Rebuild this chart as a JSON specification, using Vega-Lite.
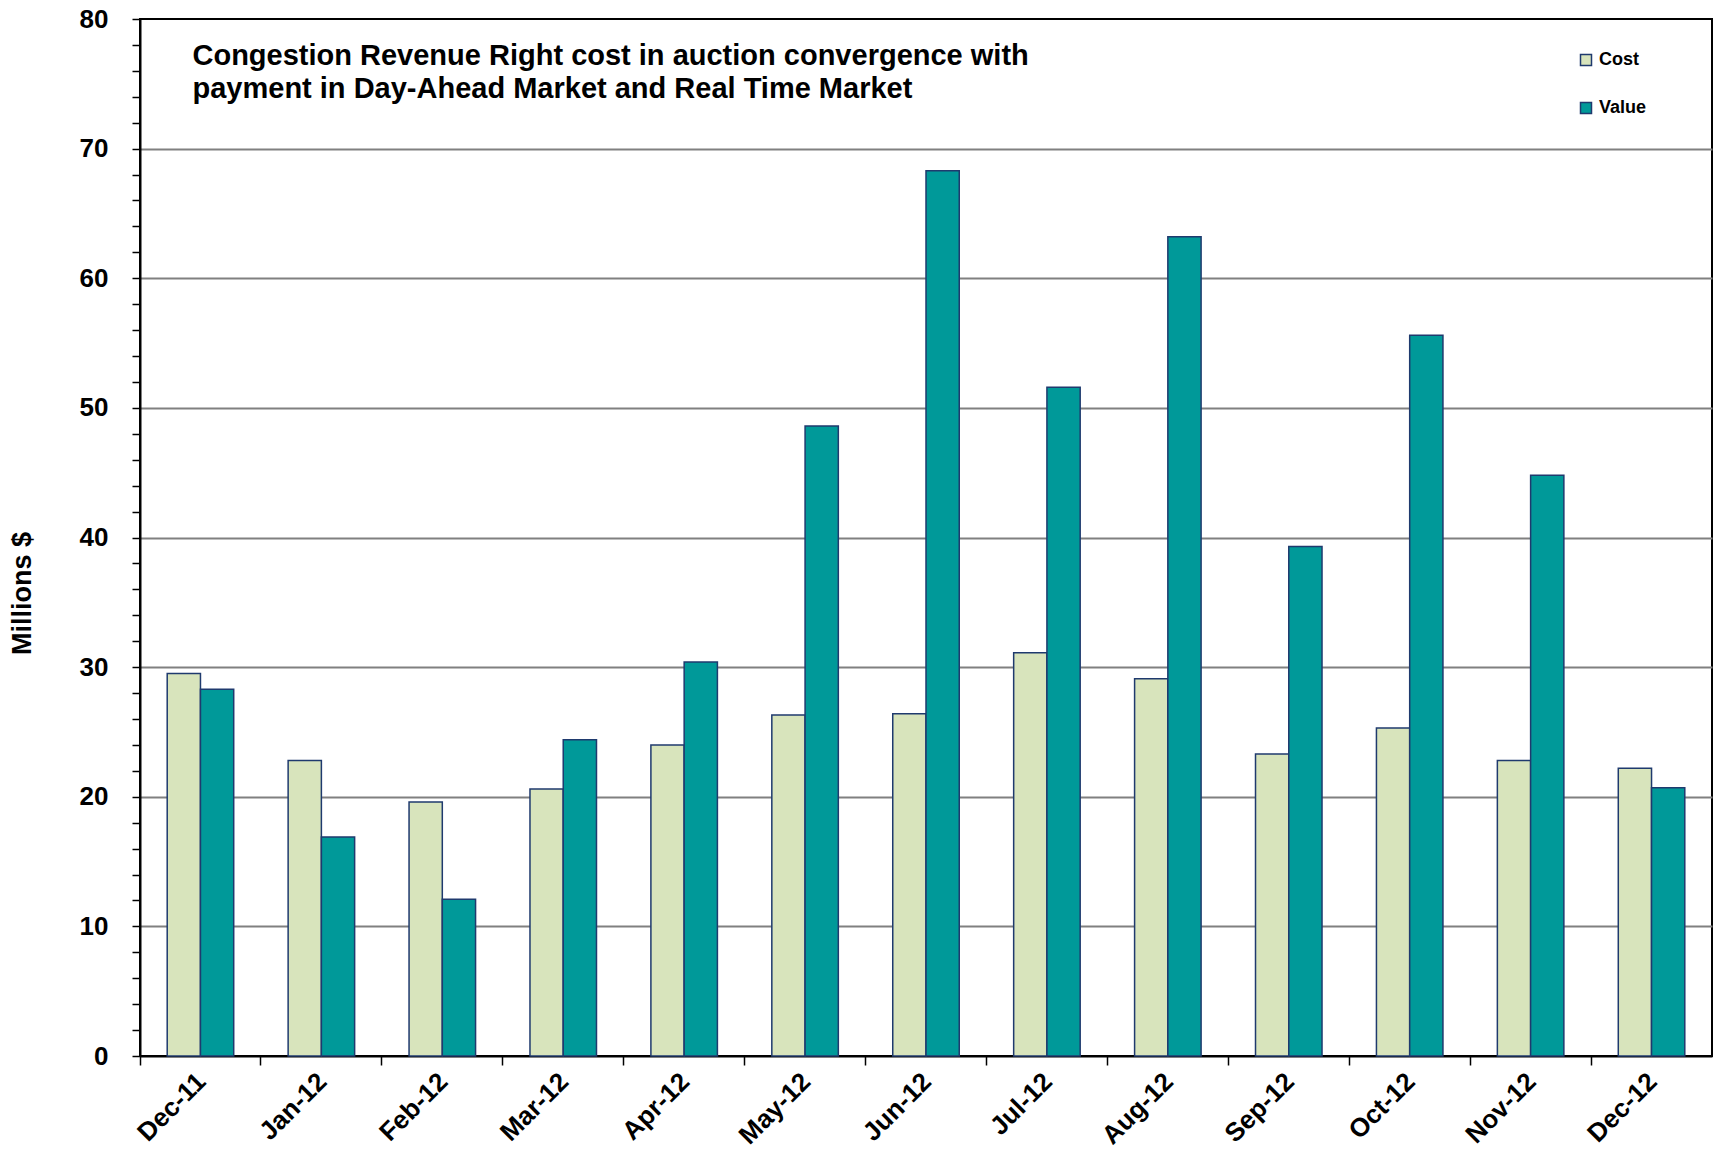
{
  "$schema": "https://vega.github.io/schema/vega-lite/v6.json",
  "width": 1572,
  "height": 1037,
  "autosize": {"type": "none"},
  "padding": {"left": 140, "top": 19, "right": 7, "bottom": 97},
  "background": "white",
  "data": {
    "values": [
      {"month": "Dec-11", "series": "Cost", "amount": 29.5},
      {"month": "Dec-11", "series": "Value", "amount": 28.3},
      {"month": "Jan-12", "series": "Cost", "amount": 22.8},
      {"month": "Jan-12", "series": "Value", "amount": 16.9},
      {"month": "Feb-12", "series": "Cost", "amount": 19.6},
      {"month": "Feb-12", "series": "Value", "amount": 12.1},
      {"month": "Mar-12", "series": "Cost", "amount": 20.6},
      {"month": "Mar-12", "series": "Value", "amount": 24.4},
      {"month": "Apr-12", "series": "Cost", "amount": 24.0},
      {"month": "Apr-12", "series": "Value", "amount": 30.4},
      {"month": "May-12", "series": "Cost", "amount": 26.3},
      {"month": "May-12", "series": "Value", "amount": 48.6},
      {"month": "Jun-12", "series": "Cost", "amount": 26.4},
      {"month": "Jun-12", "series": "Value", "amount": 68.3},
      {"month": "Jul-12", "series": "Cost", "amount": 31.1},
      {"month": "Jul-12", "series": "Value", "amount": 51.6},
      {"month": "Aug-12", "series": "Cost", "amount": 29.1},
      {"month": "Aug-12", "series": "Value", "amount": 63.2},
      {"month": "Sep-12", "series": "Cost", "amount": 23.3},
      {"month": "Sep-12", "series": "Value", "amount": 39.3},
      {"month": "Oct-12", "series": "Cost", "amount": 25.3},
      {"month": "Oct-12", "series": "Value", "amount": 55.6},
      {"month": "Nov-12", "series": "Cost", "amount": 22.8},
      {"month": "Nov-12", "series": "Value", "amount": 44.8},
      {"month": "Dec-12", "series": "Cost", "amount": 22.2},
      {"month": "Dec-12", "series": "Value", "amount": 20.7}
    ]
  },
  "layer": [
    {
      "mark": {"type": "bar", "stroke": "#1f3a6e", "strokeWidth": 1.5},
      "encoding": {
        "x": {
          "field": "month",
          "type": "nominal",
          "sort": null,
          "scale": {"paddingInner": 0.45, "paddingOuter": 0.225},
          "axis": {
            "title": null,
            "orient": "bottom",
            "ticks": false,
            "labelAngle": -45,
            "labelFontSize": 26,
            "labelFont": "Liberation Sans",
            "labelFontWeight": "bold",
            "labelColor": "black",
            "labelPadding": 12,
            "labelOffset": -8,
            "domainColor": "black",
            "domainWidth": 2
          }
        },
        "xOffset": {"field": "series", "type": "nominal", "scale": {"paddingInner": 0}},
        "y": {
          "field": "amount",
          "type": "quantitative",
          "scale": {"domain": [0, 80], "nice": false},
          "axis": {
            "title": "Millions $",
            "titleFont": "Liberation Sans",
            "titleFontSize": 27,
            "titleFontWeight": "bold",
            "titleColor": "black",
            "titleAngle": -90,
            "titleX": -118,
            "titleY": 574,
            "titleAlign": "center",
            "titleBaseline": "middle",
            "values": [0, 2, 4, 6, 8, 10, 12, 14, 16, 18, 20, 22, 24, 26, 28, 30, 32, 34, 36, 38, 40, 42, 44, 46, 48, 50, 52, 54, 56, 58, 60, 62, 64, 66, 68, 70, 72, 74, 76, 78, 80],
            "labelExpr": "datum.value % 10 === 0 ? datum.label : ''",
            "labelOverlap": false,
            "labelFlush": false,
            "labelFont": "Liberation Sans",
            "labelFontSize": 26,
            "labelFontWeight": "bold",
            "labelColor": "black",
            "labelPadding": 24,
            "tickSize": 8,
            "tickColor": "black",
            "tickWidth": 1.5,
            "domainColor": "black",
            "domainWidth": 2,
            "grid": true,
            "gridColor": "#808080",
            "gridWidth": 2,
            "gridOpacity": {"condition": {"test": "datum.value % 10 === 0 && datum.value > 0 && datum.value < 80", "value": 1}, "value": 0}
          }
        },
        "color": {
          "field": "series",
          "type": "nominal",
          "scale": {"domain": ["Cost", "Value"], "range": ["#d8e4bc", "#009999"]},
          "legend": {
            "title": null,
            "orient": "none",
            "legendX": 1437,
            "legendY": 32,
            "padding": 0,
            "symbolType": "square",
            "symbolSize": 121,
            "symbolStrokeColor": "#1f3a6e",
            "symbolStrokeWidth": 1.5,
            "symbolOpacity": 1,
            "labelFont": "Liberation Sans",
            "labelFontSize": 18,
            "labelFontWeight": "bold",
            "labelColor": "black",
            "labelOffset": 4,
            "rowPadding": 30
          }
        }
      }
    },
    {
      "mark": {"type": "rect", "opacity": 0},
      "encoding": {
        "x": {
          "field": "month",
          "type": "nominal",
          "sort": null,
          "axis": {
            "title": null,
            "orient": "bottom",
            "bandPosition": -0.409,
            "labels": false,
            "domain": false,
            "ticks": true,
            "tickSize": 9,
            "tickColor": "black",
            "tickWidth": 1.5
          }
        }
      }
    },
    {
      "mark": {"type": "rect", "opacity": 0},
      "encoding": {
        "x": {
          "field": "month",
          "type": "nominal",
          "sort": null,
          "axis": {
            "orient": "top",
            "labels": false,
            "domain": false,
            "ticks": false,
            "title": ["Congestion Revenue Right cost in auction convergence with", "payment in Day-Ahead Market and Real Time Market"],
            "titleFont": "Liberation Sans",
            "titleFontSize": 29,
            "titleFontWeight": "bold",
            "titleColor": "black",
            "titleAngle": 0,
            "titleAlign": "left",
            "titleBaseline": "top",
            "titleX": 52,
            "titleY": 22,
            "titleLineHeight": 33
          }
        }
      }
    }
  ],
  "resolve": {"axis": {"x": "independent"}},
  "config": {
    "view": {"stroke": "black", "strokeWidth": 2},
    "axis": {"grid": false}
  }
}
